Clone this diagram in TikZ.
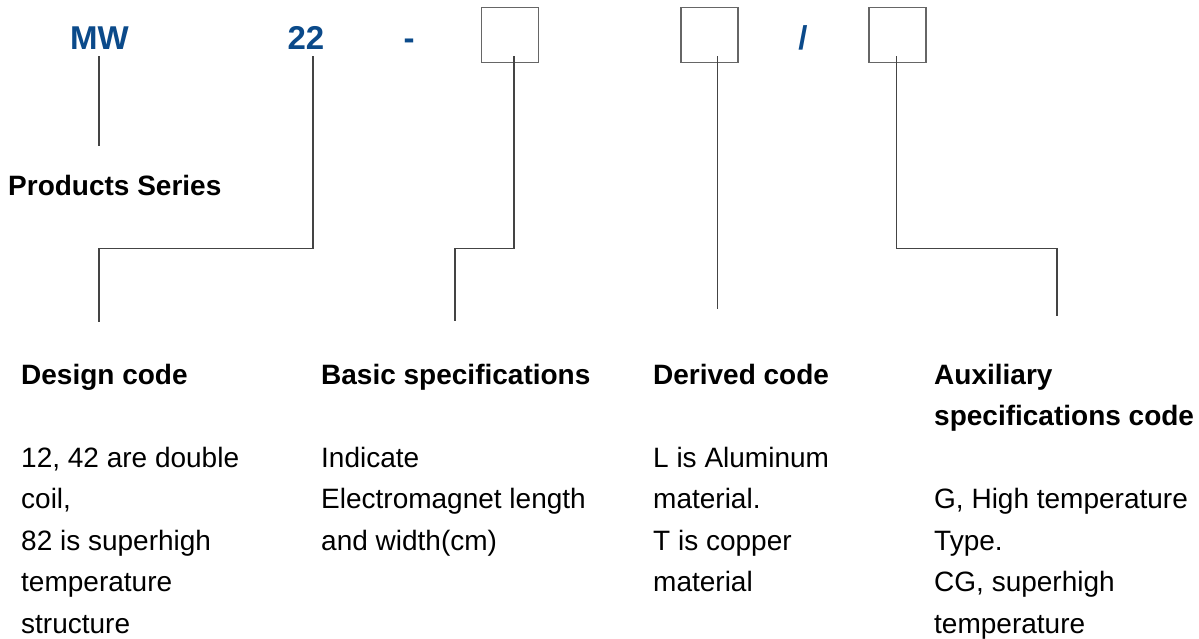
\documentclass[tikz,border=0pt]{standalone}
\usepackage{fontspec}
\setmainfont{Liberation Sans}
\definecolor{codeblue}{HTML}{0B4A8A}
\definecolor{wiregray}{HTML}{444444}
\definecolor{boxgray}{HTML}{666666}
\begin{document}
\begin{tikzpicture}[x=1pt,y=-1pt,
  code/.style={font=\fontsize{33}{40}\selectfont\bfseries, text=codeblue, inner sep=0pt, anchor=base},
  slot/.style={draw=boxgray, line width=1.5pt, minimum width=57pt, minimum height=55pt, inner sep=0pt},
  wire/.style={draw=wiregray, line width=1.4pt},
  head/.style={font=\fontsize{28}{41.5}\selectfont\bfseries, inner sep=0pt, anchor=base west, align=left},
  body/.style={font=\fontsize{28}{41.5}\selectfont, inner sep=0pt, anchor=base west, align=left}]
\useasboundingbox[fill=white] (0,0) rectangle (1199,639);

% code string
\node[code] (mw)    at (99.5,49.5) {MW};
\node[code] (n22)   at (306,49.5)  {22};
\node[code] (dash)  at (409,49.5)  {-};
\node[code] (slash) at (803,49.5)  {/};
\node[slot] (b1) at (510,35) {};
\node[slot] (b2) at (709.5,35) {};
\node[slot] (b3) at (897.5,35) {};

% descriptions (each block is placed by the baseline of its last line)
\node[head] (series) at (8,196) {Products Series};
\node[body] (design) at (21,633)
  {\textbf{Design code}\\[41.5pt]12, 42 are double\\coil,\\82 is superhigh\\temperature\\structure};
\node[body] (basic) at (321,550)
  {\textbf{Basic specifications}\\[41.5pt]Indicate\\Electromagnet length\\and width(cm)};
\node[body] (derived) at (653,591.5)
  {\textbf{Derived code}\\[41.5pt]L is Aluminum\\material.\\T is copper\\material};
\node[body] (aux) at (934,633)
  {\textbf{Auxiliary}\\\textbf{specifications code}\\[41.5pt]G, High temperature\\Type.\\CG, superhigh\\temperature};

% connector ends
\coordinate (seriesTop)  at (99,146);
\coordinate (designTop)  at (99,322);
\coordinate (basicTop)   at (455,321);
\coordinate (derivedTop) at (717.5,309);
\coordinate (auxTop)     at (1057,316);

% connectors
\draw[wire] ([yshift=-7pt]mw.base -| seriesTop) -- (seriesTop);
\draw[wire] ([xshift=7pt,yshift=-7pt]n22.base) -- ++(0,192) -| (designTop);
\draw[wire] ([xshift=4pt,yshift=7pt]b1.south) -- ++(0,192.5) -| (basicTop);
\draw[wire] ([yshift=7pt]b2.south -| derivedTop) -- (derivedTop);
\draw[wire] ([xshift=-1pt,yshift=7pt]b3.south) -- ++(0,192.5) -| (auxTop);
\end{tikzpicture}
\end{document}
